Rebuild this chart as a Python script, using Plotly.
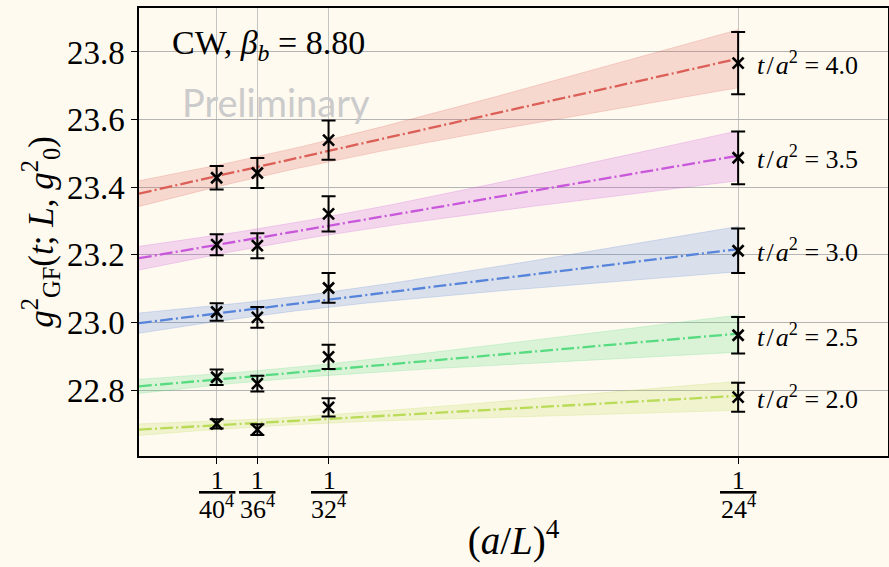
import numpy as np
import plotly.graph_objects as go

# ---------------- data ----------------
L_values = [40, 36, 32, 24]                 # lattice sizes -> x = (a/L)^4 = 1/L^4
t_values = [2.0, 2.5, 3.0, 3.5, 4.0]        # flow times t/a^2
colors = ["#b9db57", "#57db80", "#5784db", "#c957db", "#db5f57"]

g2_t20 = [22.700, 22.683, 22.749, 22.779]
g2_t25 = [22.838, 22.819, 22.898, 22.962]
g2_t30 = [23.031, 23.015, 23.102, 23.212]
g2_t35 = [23.230, 23.227, 23.321, 23.487]
g2_t40 = [23.428, 23.442, 23.539, 23.767]

err_t20 = [0.014, 0.016, 0.027, 0.043]
err_t25 = [0.023, 0.023, 0.036, 0.054]
err_t30 = [0.026, 0.031, 0.044, 0.066]
err_t35 = [0.031, 0.037, 0.052, 0.078]
err_t40 = [0.035, 0.044, 0.058, 0.092]

# continuum-extrapolation fit: value at x=0 and at x=1/24^4
fit_at_0 = [22.683, 22.811, 22.998, 23.190, 23.381]
fit_at_24 = [22.783, 22.967, 23.217, 23.493, 23.780]
# fit band half-widths at x=0, x=1/32^4, x=1/24^4
band_at_0 = [0.017, 0.021, 0.030, 0.035, 0.038]
band_at_32 = [0.012, 0.017, 0.022, 0.027, 0.032]
band_at_24 = [0.043, 0.055, 0.067, 0.074, 0.086]

y_ticks = [22.8, 23.0, 23.2, 23.4, 23.6, 23.8]

g2_all = [g2_t20, g2_t25, g2_t30, g2_t35, g2_t40]
err_all = [err_t20, err_t25, err_t30, err_t35, err_t40]

# ---------------- figure ----------------
x_vals = [1.0 / L**4 for L in L_values]
x24 = 1.0 / 24**4
x32 = 1.0 / 32**4

BG = "#fffaf0"
SERIF = "'Liberation Serif', 'Times New Roman', Times, serif"
THIN = "\u2009"
HAIR = "\u200a"

def rgba(hex_color, a):
    h = hex_color.lstrip("#")
    r, g, b = int(h[0:2], 16), int(h[2:4], 16), int(h[4:6], 16)
    return f"rgba({r},{g},{b},{a})"

fig = go.Figure()

xs = np.linspace(0.0, x24, 120)
for i, t in enumerate(t_values):
    c = colors[i]
    slope = (fit_at_24[i] - fit_at_0[i]) / x24
    yfit = fit_at_0[i] + slope * xs
    # sigma^2 is quadratic in x for a linear fit
    coef = np.polyfit([0.0, x32, x24],
                      [band_at_0[i]**2, band_at_32[i]**2, band_at_24[i]**2], 2)
    sig = np.sqrt(np.clip(np.polyval(coef, xs), 0, None))
    upper = yfit + sig
    lower = yfit - sig
    fig.add_trace(go.Scatter(
        x=np.concatenate([xs, xs[::-1]]),
        y=np.concatenate([upper, lower[::-1]]),
        fill="toself", fillcolor=rgba(c, 0.22),
        line=dict(color=rgba(c, 0.28), width=0.8),
        mode="lines", hoverinfo="skip", showlegend=False))
    fig.add_trace(go.Scatter(
        x=xs, y=yfit, mode="lines",
        line=dict(color=c, width=2.3, dash="12.8px,3.2px,2px,3.2px"),
        showlegend=False))

for i, t in enumerate(t_values):
    fig.add_trace(go.Scatter(
        x=x_vals, y=g2_all[i], mode="markers",
        marker=dict(symbol="x-thin", size=11, color="black",
                    line=dict(color="black", width=2.6)),
        error_y=dict(type="data", array=err_all[i], visible=True,
                     color="black", thickness=2, width=7),
        showlegend=False))
    fig.add_annotation(
        x=x24, y=g2_all[i][-1], xref="x", yref="y",
        text=f"<i>t</i>{HAIR}/{HAIR}<i>a</i><sup>2</sup> = {t:.1f}",
        showarrow=False, xanchor="left", yanchor="middle", xshift=17,
        font=dict(family=SERIF, size=26, color="black"))

# x tick labels as stacked fractions 1 / L^4
for L, xv in zip(L_values, x_vals):
    fig.add_annotation(
        x=xv, y=0, xref="x", yref="paper",
        text=f"<u>&nbsp;{THIN}1&nbsp;{THIN}</u>", showarrow=False,
        xanchor="center", yanchor="top", yshift=-8,
        font=dict(family=SERIF, size=26, color="black"))
    fig.add_annotation(
        x=xv, y=0, xref="x", yref="paper",
        text=f"{L}<sup>4</sup>", showarrow=False,
        xanchor="center", yanchor="top", yshift=-33,
        font=dict(family=SERIF, size=26, color="black"))

fig.add_annotation(
    x=0.041, y=0.918, xref="paper", yref="paper",
    text="CW, <i>β<sub>b</sub></i> = 8.80", showarrow=False,
    xanchor="left", yanchor="middle",
    font=dict(family=SERIF, size=34, color="black"))
fig.add_annotation(
    x=0.183, y=0.79, xref="paper", yref="paper",
    text="Preliminary", showarrow=False,
    xanchor="center", yanchor="middle",
    font=dict(family="Lato", size=38, color="#cbcbcb"))

fig.update_layout(
    width=889, height=567,
    margin=dict(l=139, r=1, t=8, b=111),
    paper_bgcolor=BG, plot_bgcolor=BG,
    showlegend=False,
    font=dict(family=SERIF, color="black"),
    xaxis=dict(
        range=[0, 3.768e-6], automargin=False,
        tickmode="array", tickvals=x_vals, showticklabels=False,
        ticks="outside", ticklen=6, tickwidth=1.2, tickcolor="black",
        showgrid=True, gridcolor="#c4c4c4", gridwidth=1,
        showline=True, mirror=True, linecolor="black", linewidth=1.5,
        zeroline=False,
        title=dict(text="(<i>a</i>/<i>L</i>)<sup>4</sup>",
                   font=dict(family=SERIF, size=39, color="black"),
                   standoff=64),
    ),
    yaxis=dict(
        range=[22.605, 23.93], automargin=False,
        tickmode="array", tickvals=y_ticks,
        ticktext=[f"{v:.1f}" for v in y_ticks],
        tickfont=dict(family=SERIF, size=33, color="black"),
        ticks="outside", ticklen=6, tickwidth=1.2, tickcolor="black",
        showgrid=True, gridcolor="#b4b4b4", gridwidth=1,
        showline=True, mirror=True, linecolor="black", linewidth=1.5,
        zeroline=False,
        title=dict(text="<i>g</i><sup>2</sup><sub>GF</sub>(<i>t</i>; <i>L</i>, <i>g</i><sup>2</sup><sub>0</sub>)",
                   font=dict(family=SERIF, size=35, color="black"),
                   standoff=3),
    ),
)

fig.write_html(
    "out.html",
    config={"displayModeBar": False},
    post_script="document.body.style.margin='0';document.body.style.overflow='hidden';",
)
